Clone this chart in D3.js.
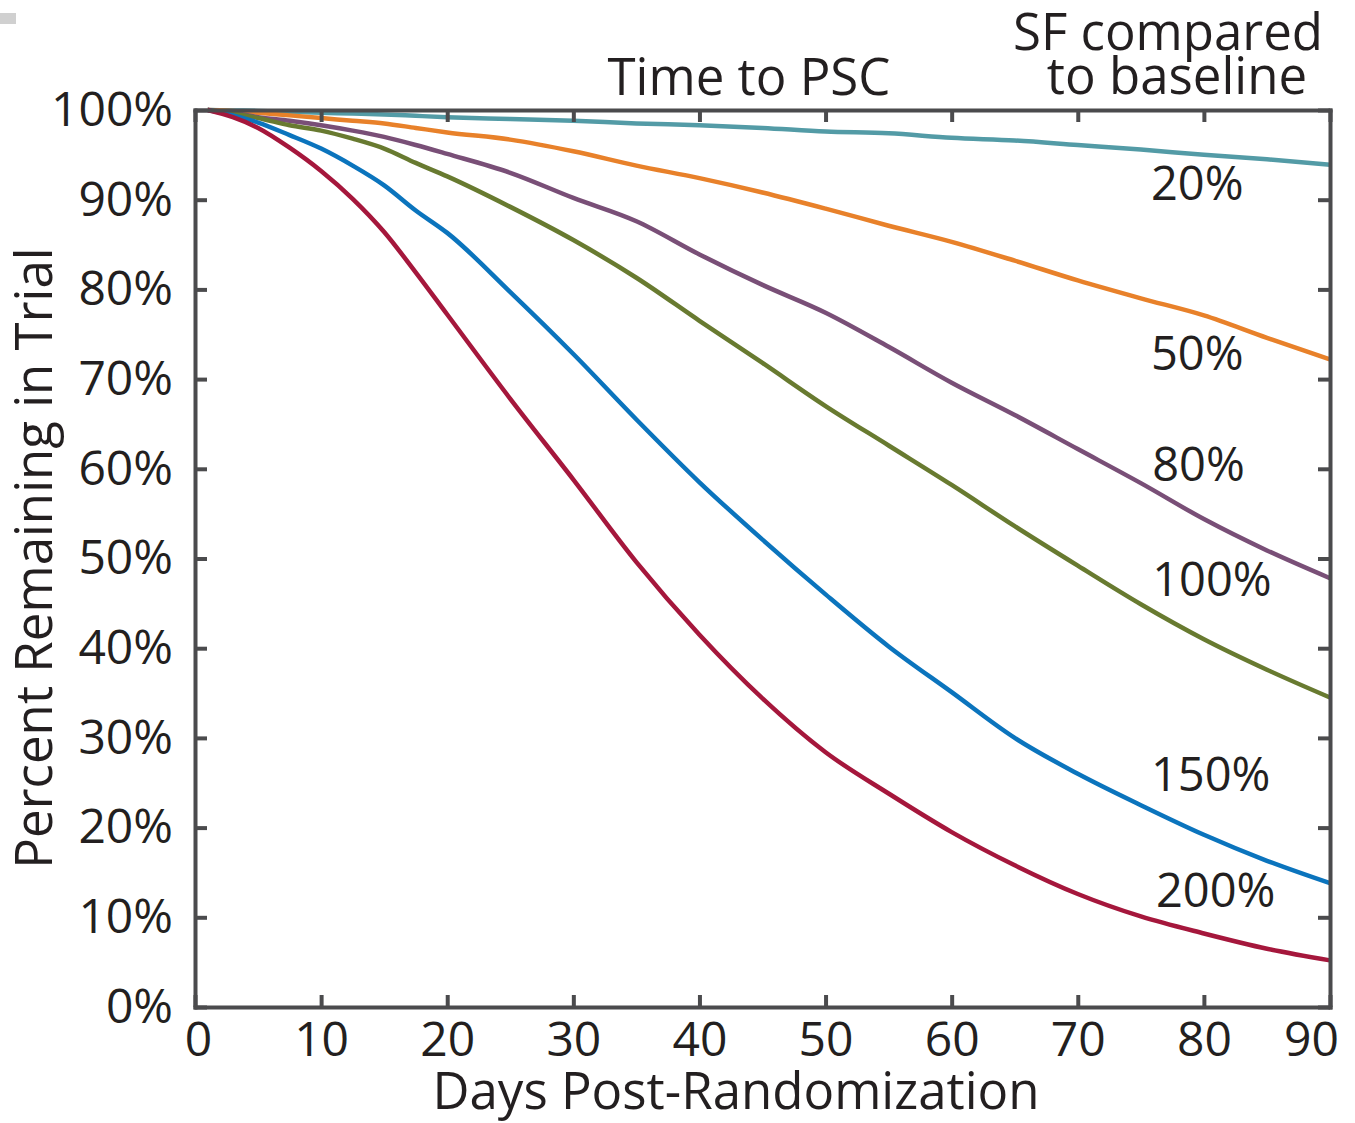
<!DOCTYPE html>
<html>
<head>
<meta charset="utf-8">
<script src="https://cdn.jsdelivr.net/npm/d3@7"></script>
<style>
  body { margin: 0; background: #fff; }
  svg { display: block; font-family: "Open Sans", "DejaVu Sans", sans-serif; }
  .axis text { font-family: "Open Sans", "DejaVu Sans", sans-serif; font-size: 48px; fill: #231f20; }
  .axis line, .axis path { stroke: #4b4b4d; stroke-width: 4; }
</style>
</head>
<body>
<div id="chart"></div>
<script>
const width = 1355;
const height = 1123;

// days after randomization
const days = [1, 3, 5, 7.5, 10, 12.5, 15, 17.5, 20, 25, 30, 35, 40, 45, 50, 55, 60, 65, 70, 75, 80, 85, 90];

// percent remaining in trial, one list per SF level
const sf20  = [100, 99.95, 99.9, 99.8, 99.7, 99.6, 99.5, 99.35, 99.2, 99.0, 98.8, 98.5, 98.3, 98.0, 97.6, 97.4, 96.9, 96.6, 96.1, 95.6, 95.0, 94.5, 93.9];
const sf50  = [100, 99.9, 99.7, 99.4, 99.1, 98.8, 98.5, 98.0, 97.5, 96.7, 95.4, 93.8, 92.4, 90.8, 89.0, 87.1, 85.3, 83.2, 81.0, 79.0, 77.1, 74.6, 72.2];
const sf80  = [100, 99.7, 99.2, 98.8, 98.3, 97.7, 97.0, 96.1, 95.1, 93.0, 90.2, 87.6, 83.9, 80.5, 77.4, 73.6, 69.6, 66.0, 62.2, 58.4, 54.4, 50.9, 47.8];
const sf100 = [100, 99.6, 99.1, 98.3, 97.7, 96.8, 95.7, 94.1, 92.6, 89.2, 85.5, 81.3, 76.5, 71.8, 67.0, 62.6, 58.2, 53.6, 49.2, 44.9, 41.0, 37.6, 34.5];
const sf150 = [100, 99.4, 98.6, 97.2, 95.7, 93.8, 91.6, 88.8, 86.3, 79.7, 72.8, 65.5, 58.5, 52.1, 46.0, 40.2, 35.1, 30.0, 26.0, 22.5, 19.2, 16.3, 13.8];
const sf200 = [100, 99.2, 98.0, 95.8, 93.2, 90.1, 86.4, 81.9, 77.2, 67.8, 58.8, 49.6, 41.5, 34.4, 28.4, 23.8, 19.5, 15.8, 12.6, 10.1, 8.2, 6.5, 5.2];

const seriesNames = ["20%", "50%", "80%", "100%", "150%", "200%"];
const seriesValues = [sf20, sf50, sf80, sf100, sf150, sf200];
const seriesColors = ["#539ba6", "#e8812a", "#794f77", "#687a30", "#0b74bd", "#a5173c"];

// where each curve label sits, in data units (day, percent)
const labelDay = [75.8, 75.8, 75.9, 75.9, 75.8, 76.2];
const labelPct = [90.0, 71.0, 58.6, 45.8, 24.1, 11.1];

const xTicks = [0, 10, 20, 30, 40, 50, 60, 70, 80, 90];
const yTicks = [0, 10, 20, 30, 40, 50, 60, 70, 80, 90, 100];

const margin = { top: 110, right: 25, bottom: 116, left: 195 };

const svg = d3.select("#chart")
    .append("svg")
    .attr("width", width)
    .attr("height", height);

const x = d3.scaleLinear().domain([0, 90]).range([margin.left, width - margin.right]);
const y = d3.scaleLinear().domain([0, 100]).range([height - margin.bottom, margin.top]);

// small grey mark in the top-left corner of the original
svg.append("rect")
    .attr("x", 0).attr("y", 13).attr("width", 16).attr("height", 11)
    .attr("fill", "#d0d0d0");

// curves
const line = d3.line()
    .x(d => x(d[0]))
    .y(d => y(d[1]))
    .curve(d3.curveMonotoneX);

seriesValues.forEach((vals, i) => {
    svg.append("path")
        .datum(days.map((d, j) => [d, vals[j]]))
        .attr("fill", "none")
        .attr("stroke", seriesColors[i])
        .attr("stroke-width", 4.5)
        .attr("stroke-linejoin", "round")
        .attr("d", line);
});

// axes, ticks pointing inward on all four sides
const yFmt = d => d + "%";

svg.append("g")
    .attr("class", "axis")
    .attr("transform", `translate(${x(0)},0)`)
    .call(d3.axisLeft(y).tickValues(yTicks).tickFormat(yFmt).tickSizeInner(-12).tickSizeOuter(0).tickPadding(22));

svg.append("g")
    .attr("class", "axis")
    .attr("transform", `translate(${x(90)},0)`)
    .call(d3.axisRight(y).tickValues(yTicks).tickFormat("").tickSizeInner(-12).tickSizeOuter(0));

const xAxis = svg.append("g")
    .attr("class", "axis")
    .attr("transform", `translate(0,${y(0)})`)
    .call(d3.axisBottom(x).tickValues(xTicks).tickSizeInner(-12).tickSizeOuter(0).tickPadding(15));

// first and last labels pulled inside like the original
xAxis.selectAll(".tick text")
    .attr("dx", d => d === 0 ? 3 : (d === 90 ? -19 : 0));

svg.append("g")
    .attr("class", "axis")
    .attr("transform", `translate(0,${y(100)})`)
    .call(d3.axisTop(x).tickValues(xTicks).tickFormat("").tickSizeInner(-12).tickSizeOuter(0));

svg.selectAll(".axis .domain").attr("stroke-linecap", "square");

// curve labels
seriesNames.forEach((name, i) => {
    svg.append("text")
        .attr("x", x(labelDay[i]))
        .attr("y", y(labelPct[i]))
        .attr("font-size", 47)
        .attr("fill", "#231f20")
        .text(name);
});

// titles
svg.append("text")
    .attr("x", 749)
    .attr("y", 95)
    .attr("text-anchor", "middle")
    .attr("font-size", 51)
    .attr("fill", "#231f20")
    .text("Time to PSC");

svg.append("text")
    .attr("x", 1168)
    .attr("y", 50)
    .attr("text-anchor", "middle")
    .attr("font-size", 51)
    .attr("fill", "#231f20")
    .text("SF compared");

svg.append("text")
    .attr("x", 1177)
    .attr("y", 94)
    .attr("text-anchor", "middle")
    .attr("font-size", 51)
    .attr("fill", "#231f20")
    .text("to baseline");

svg.append("text")
    .attr("x", 736)
    .attr("y", 1109)
    .attr("text-anchor", "middle")
    .attr("font-size", 51)
    .attr("fill", "#231f20")
    .text("Days Post-Randomization");

svg.append("text")
    .attr("transform", "translate(52,558) rotate(-90)")
    .attr("text-anchor", "middle")
    .attr("font-size", 51)
    .attr("fill", "#231f20")
    .text("Percent Remaining in Trial");
</script>
</body>
</html>
